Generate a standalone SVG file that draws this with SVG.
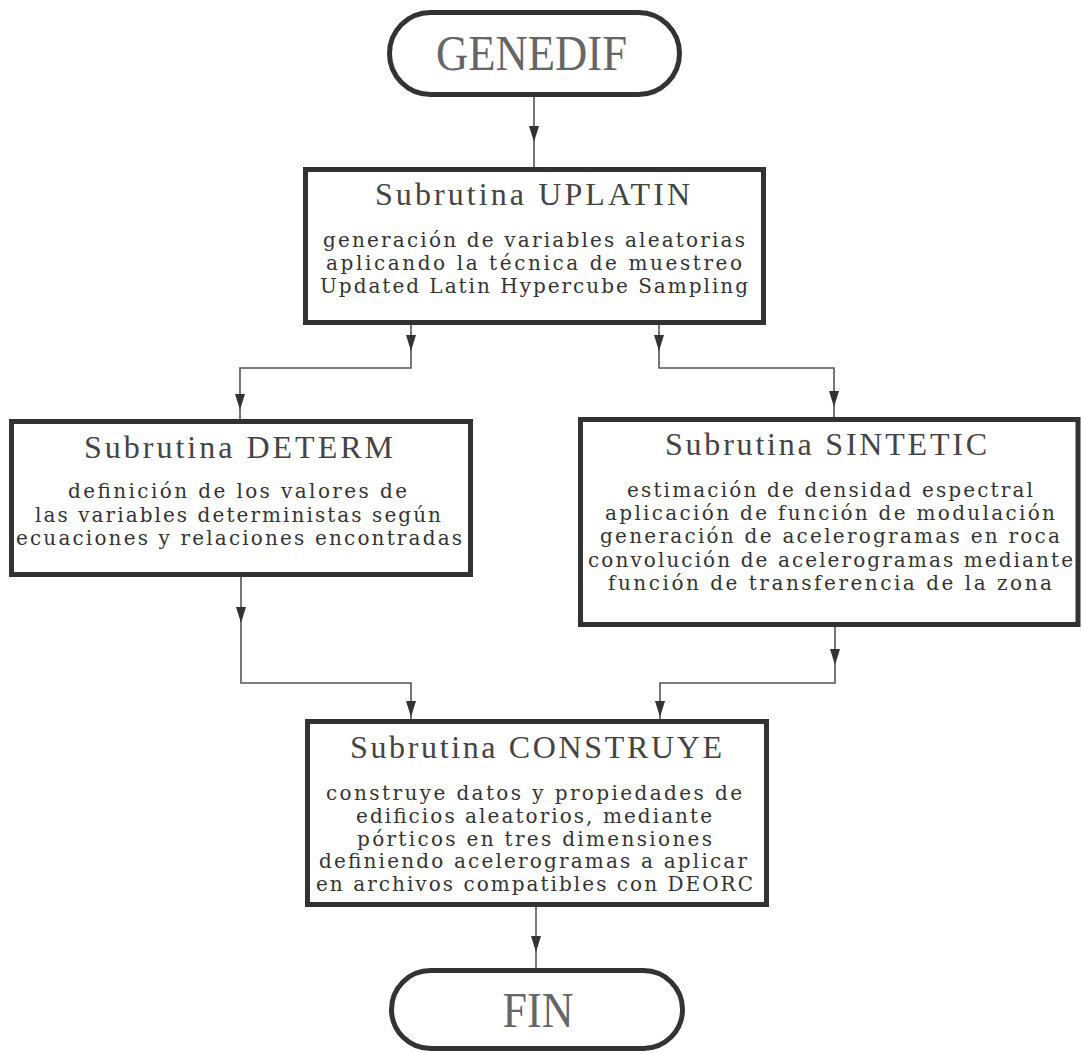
<svg xmlns="http://www.w3.org/2000/svg" xmlns:xlink="http://www.w3.org/1999/xlink" width="1082" height="1053" viewBox="0 0 1082 1053">
  <style>
    .box { fill: #ffffff; stroke: #333333; stroke-width: 5; }
    .term { fill: #ffffff; stroke: #333333; stroke-width: 5; }
    .wire { fill: none; stroke: #555555; stroke-width: 1.6; }
    .head { fill: #333333; stroke: none; }
    .term-label { font-family: "Liberation Serif", "DejaVu Serif", serif; font-size: 50px; fill: #666666; text-anchor: middle; }
    .title { font-family: "Liberation Serif", "DejaVu Serif", serif; font-size: 32px; fill: #444444; text-anchor: middle; }
    .body { font-family: "DejaVu Serif", "Liberation Serif", serif; font-size: 20px; fill: #333333; text-anchor: middle; }
  </style>
  <defs>
    <!-- arrowhead with its tip at the origin, pointing down -->
    <path id="ah" class="head" d="M-5,-16 L5,-16 L0,0 Z"/>
  </defs>

  <rect width="1082" height="1053" fill="#ffffff"/>

  <g id="connectors">
    <path class="wire" d="M534,97 V167"/>
    <path class="wire" d="M411,325 V368 H240 V419"/>
    <path class="wire" d="M659,325 V368 H834 V417"/>
    <path class="wire" d="M241,577 V683 H411 V719"/>
    <path class="wire" d="M835,627 V683 H660 V719"/>
    <path class="wire" d="M536,907 V968"/>
    <use xlink:href="#ah" x="534" y="142"/>
    <use xlink:href="#ah" x="411" y="351"/>
    <use xlink:href="#ah" x="240" y="410"/>
    <use xlink:href="#ah" x="659" y="351"/>
    <use xlink:href="#ah" x="834" y="407"/>
    <use xlink:href="#ah" x="241" y="623"/>
    <use xlink:href="#ah" x="411" y="717"/>
    <use xlink:href="#ah" x="835" y="665"/>
    <use xlink:href="#ah" x="660" y="717"/>
    <use xlink:href="#ah" x="536" y="952"/>
  </g>

  <g id="genedif">
    <rect class="term" x="389.5" y="12.5" width="290" height="82" rx="41" ry="41"/>
    <text class="term-label" x="531.5" y="70" textLength="191" lengthAdjust="spacingAndGlyphs">GENEDIF</text>
  </g>

  <g id="uplatin">
    <rect class="box" x="305.5" y="169.5" width="458" height="153"/>
    <text class="title" x="532.5" y="205" textLength="315" lengthAdjust="spacing">Subrutina UPLATIN</text>
    <text class="body" x="534" y="247" textLength="422" lengthAdjust="spacing">generación de variables aleatorias</text>
    <text class="body" x="534" y="270" textLength="416" lengthAdjust="spacing">aplicando la técnica de muestreo</text>
    <text class="body" x="534" y="293" textLength="428" lengthAdjust="spacing">Updated Latin Hypercube Sampling</text>
  </g>

  <g id="determ">
    <rect class="box" x="11.5" y="421.5" width="459" height="153"/>
    <text class="title" x="238.5" y="458" textLength="309" lengthAdjust="spacing">Subrutina DETERM</text>
    <text class="body" x="237.5" y="498" textLength="339" lengthAdjust="spacing">definición de los valores de</text>
    <text class="body" x="238" y="522" textLength="406" lengthAdjust="spacing">las variables deterministas según</text>
    <text class="body" x="239" y="545" textLength="446" lengthAdjust="spacing">ecuaciones y relaciones encontradas</text>
  </g>

  <g id="sintetic">
    <rect class="box" x="580.5" y="419.5" width="497.5" height="205"/>
    <text class="title" x="826" y="455" textLength="322" lengthAdjust="spacing">Subrutina SINTETIC</text>
    <text class="body" x="830" y="497" textLength="406" lengthAdjust="spacing">estimación de densidad espectral</text>
    <text class="body" x="830" y="520" textLength="450" lengthAdjust="spacing">aplicación de función de modulación</text>
    <text class="body" x="830" y="543" textLength="460" lengthAdjust="spacing">generación de acelerogramas en roca</text>
    <text class="body" x="830.5" y="567" textLength="485" lengthAdjust="spacing">convolución de acelerogramas mediante</text>
    <text class="body" x="830" y="590" textLength="444" lengthAdjust="spacing">función de transferencia de la zona</text>
  </g>

  <g id="construye">
    <rect class="box" x="307.5" y="721.5" width="459" height="183"/>
    <text class="title" x="536" y="758" textLength="372" lengthAdjust="spacing">Subrutina CONSTRUYE</text>
    <text class="body" x="534" y="800" textLength="416" lengthAdjust="spacing">construye datos y propiedades de</text>
    <text class="body" x="534" y="823" textLength="356" lengthAdjust="spacing">edificios aleatorios, mediante</text>
    <text class="body" x="534.5" y="846" textLength="355" lengthAdjust="spacing">pórticos en tres dimensiones</text>
    <text class="body" x="533" y="868" textLength="428" lengthAdjust="spacing">definiendo acelerogramas a aplicar</text>
    <text class="body" x="534.5" y="891" textLength="437" lengthAdjust="spacing">en archivos compatibles con DEORC</text>
  </g>

  <g id="fin">
    <rect class="term" x="391.5" y="970.5" width="291" height="78" rx="39" ry="39"/>
    <text class="term-label" x="538" y="1027" textLength="71" lengthAdjust="spacingAndGlyphs">FIN</text>
  </g>
</svg>
